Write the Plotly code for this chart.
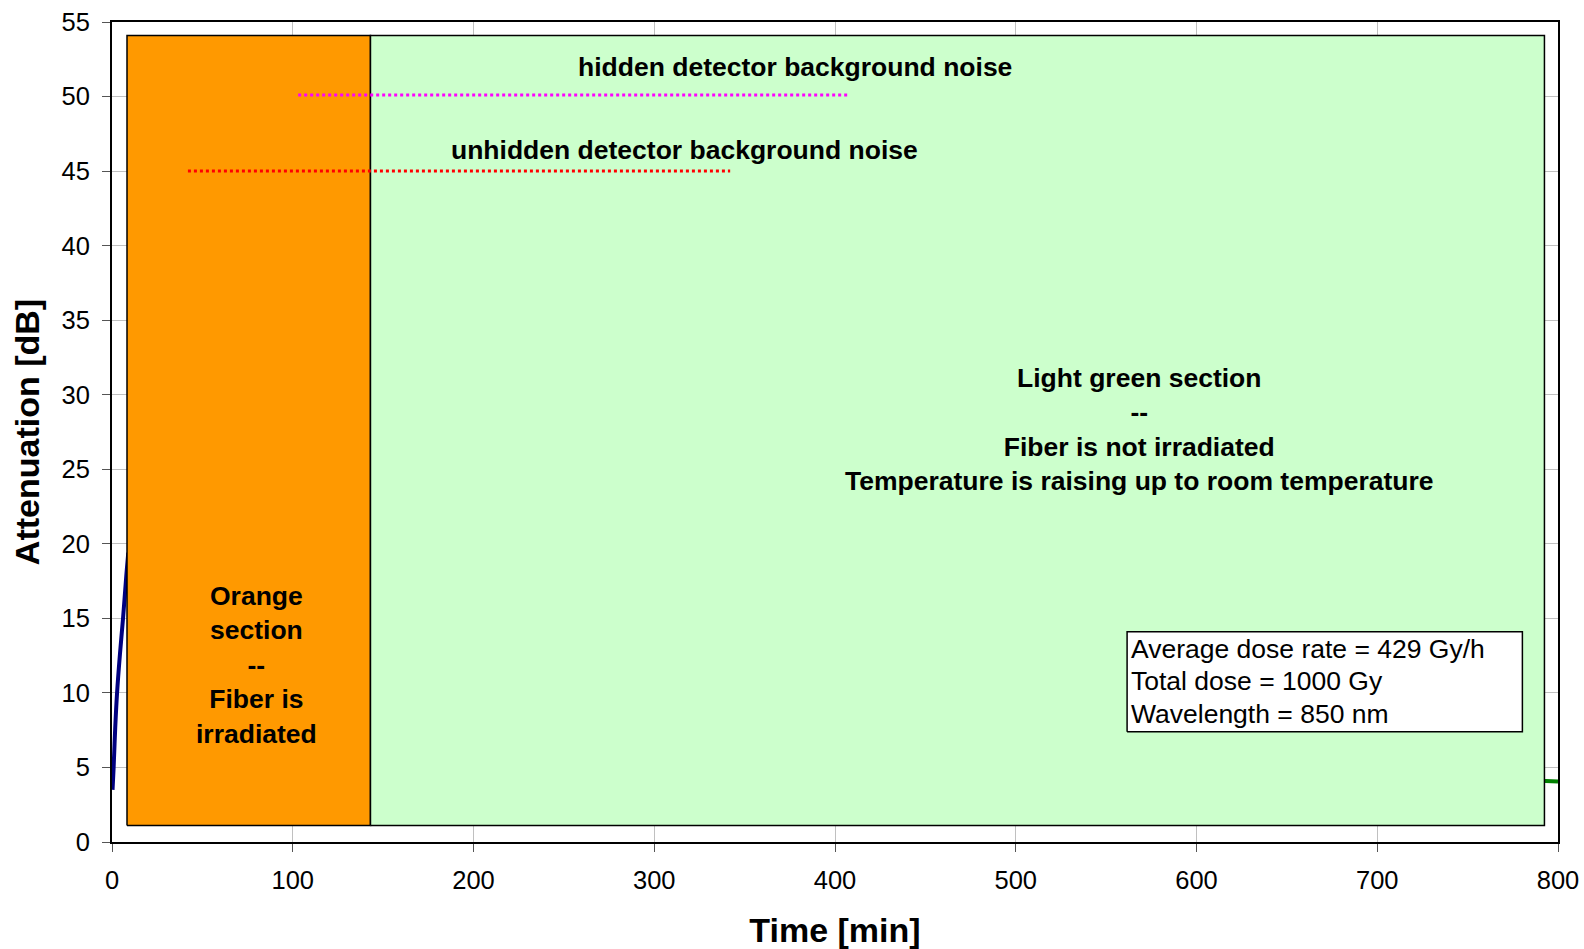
import plotly.graph_objects as go

# --- data ---
irr_time = [0.3, 0.9, 1.8, 2.8, 4.4, 6.1, 8.0, 9.0]
irr_att = [3.5, 5.0, 7.7, 10.0, 12.6, 15.0, 18.0, 19.4]
rec_time = [790, 795, 800]
rec_att = [4.1, 4.1, 4.05]

orange_x = [8.3, 143.0]
green_x = [143.0, 792.5]
section_y = [1.1, 54.1]

hidden_x = [103, 408]
hidden_y = 50.1
unhidden_x = [42, 342]
unhidden_y = 45.0

x_ticks = [0, 100, 200, 300, 400, 500, 600, 700, 800]
y_ticks = [0, 5, 10, 15, 20, 25, 30, 35, 40, 45, 50, 55]

box_x = [561.6, 780.3]
box_y = [7.4, 14.1]
box_lines = ["Average dose rate = 429 Gy/h", "Total dose = 1000 Gy", "Wavelength = 850 nm"]

FONT = "Liberation Sans, Arial, sans-serif"

fig = go.Figure()

fig.add_trace(go.Scatter(x=irr_time, y=irr_att, mode="lines", line_shape="spline",
                         line=dict(color="#000080", width=4), showlegend=False))
fig.add_trace(go.Scatter(x=rec_time, y=rec_att, mode="lines",
                         line=dict(color="#008000", width=4), showlegend=False))

def rect(xs, ys, fill):
    return go.Scatter(x=[xs[0], xs[1], xs[1], xs[0], xs[0]],
                      y=[ys[0], ys[0], ys[1], ys[1], ys[0]],
                      mode="lines", fill="toself", fillcolor=fill,
                      line=dict(color="#000000", width=1.5),
                      showlegend=False, hoverinfo="skip")

fig.add_trace(rect(orange_x, section_y, "#FF9900"))
fig.add_trace(rect(green_x, section_y, "#CCFFCC"))
fig.add_trace(rect(box_x, box_y, "#FFFFFF"))

fig.add_trace(go.Scatter(x=hidden_x, y=[hidden_y, hidden_y], mode="lines",
                         line=dict(color="#FF00FF", width=3, dash="dot"), showlegend=False))
fig.add_trace(go.Scatter(x=unhidden_x, y=[unhidden_y, unhidden_y], mode="lines",
                         line=dict(color="#FF0000", width=3, dash="dot"), showlegend=False))

bold = dict(family=FONT, size=26.5, color="black")
fig.add_annotation(x=378, y=52.0, text="<b>hidden detector background noise</b>",
                   showarrow=False, font=bold)
fig.add_annotation(x=317, y=46.4, text="<b>unhidden detector background noise</b>",
                   showarrow=False, font=bold)
fig.add_annotation(x=80.2, y=11.9,
                   text="<b>Orange<br>section<br>--<br>Fiber is<br>irradiated</b>",
                   showarrow=False, font=bold)
fig.add_annotation(x=568.6, y=27.7,
                   text="<b>Light green section<br>--<br>Fiber is not irradiated<br>Temperature is raising up to room temperature</b>",
                   showarrow=False, font=bold)
for i, line in enumerate(box_lines):
    fig.add_annotation(x=box_x[0] + 1.2, y=box_y[1] - 1.15 - 2.18 * i, xanchor="left",
                       text=line, align="left", showarrow=False,
                       font=dict(family=FONT, size=26.5, color="black"))

axis_common = dict(showline=True, linecolor="black", linewidth=2, mirror=True,
                   ticks="outside", ticklen=8, tickcolor="#555555", tickwidth=1,
                   showgrid=True, gridcolor="#C0C0C0", gridwidth=1, zeroline=False,
                   automargin=False, ticklabeloverflow="allow",
                   tickfont=dict(family=FONT, size=25.5, color="black"))

fig.update_layout(
    width=1584, height=949,
    margin=dict(l=112, r=26, t=22, b=107),
    paper_bgcolor="white", plot_bgcolor="white",
    xaxis=dict(range=[0, 800], tickvals=x_ticks, ticklabelstandoff=6,
               title=dict(text="<b>Time [min]</b>", font=dict(family=FONT, size=34, color="black"),
                          standoff=33),
               **axis_common),
    yaxis=dict(range=[0, 55], tickvals=y_ticks, ticklabelstandoff=7,
               title=dict(text="<b>Attenuation [dB]</b>", font=dict(family=FONT, size=34, color="black"),
                          standoff=12),
               **axis_common),
)

fig.write_html("out.html", config={"displayModeBar": False},
               post_script="document.body.style.margin='0px';document.body.style.overflow='hidden';")
